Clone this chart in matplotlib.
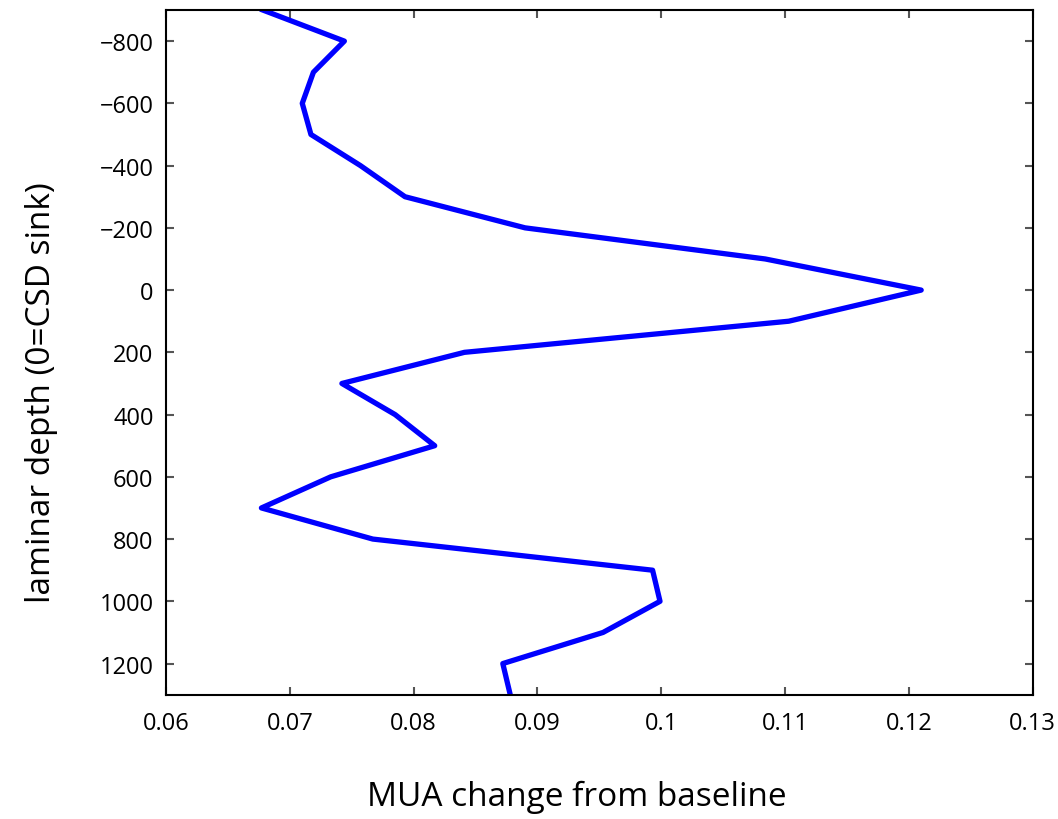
import matplotlib
matplotlib.use("Agg")
import matplotlib.pyplot as plt

plt.rcParams['font.family'] = ['Open Sans', 'DejaVu Sans']

# profondità laminare (0 = CSD sink) e variazione MUA
depth = [-900, -800, -700, -600, -500, -400, -300, -200, -100, 0, 100, 200,
         300, 400, 500, 600, 700, 800, 900, 1000, 1100, 1200, 1300]
mua = [0.0678, 0.0744, 0.0719, 0.0710, 0.0717, 0.0757, 0.0793, 0.0890, 0.1084,
       0.1210, 0.1103, 0.0841, 0.0742, 0.0785, 0.0817, 0.0733, 0.0677, 0.0767,
       0.0993, 0.0999, 0.0953, 0.0872, 0.0878]

xticks = [0.06, 0.07, 0.08, 0.09, 0.1, 0.11, 0.12, 0.13]
xticklabels = ['0.06', '0.07', '0.08', '0.09', '0.1', '0.11', '0.12', '0.13']
yticks = [-800, -600, -400, -200, 0, 200, 400, 600, 800, 1000, 1200]

fig = plt.figure(figsize=(10.58, 8.2), dpi=100)
ax = fig.add_axes([0.157, 0.1516, 0.819, 0.835])

ax.plot(mua, depth, color='#0000ff', linewidth=3.8, solid_joinstyle='round')

ax.set_xlim(0.06, 0.13)
ax.set_ylim(1300, -900)
ax.set_xticks(xticks)
ax.set_xticklabels(xticklabels)
ax.set_yticks(yticks)
ax.set_yticklabels([str(v).replace('-', '\u2212') for v in yticks])

ax.tick_params(axis='both', direction='in', length=6, width=1.5, color='#555555',
               labelsize=17, top=True, right=True)
ax.tick_params(axis='x', pad=12)
ax.tick_params(axis='y', pad=9)
for s in ax.spines.values():
    s.set_linewidth(1.5)

ax.set_xlabel('MUA change from baseline', fontsize=24, labelpad=32)
ax.set_ylabel('laminar depth (0=CSD sink)', fontsize=24, labelpad=30)
# etichette leggermente decentrate come nell'originale
ax.xaxis.label.set_x(0.474)
ax.yaxis.label.set_y(0.442)

fig.savefig('out.png', dpi=100)
